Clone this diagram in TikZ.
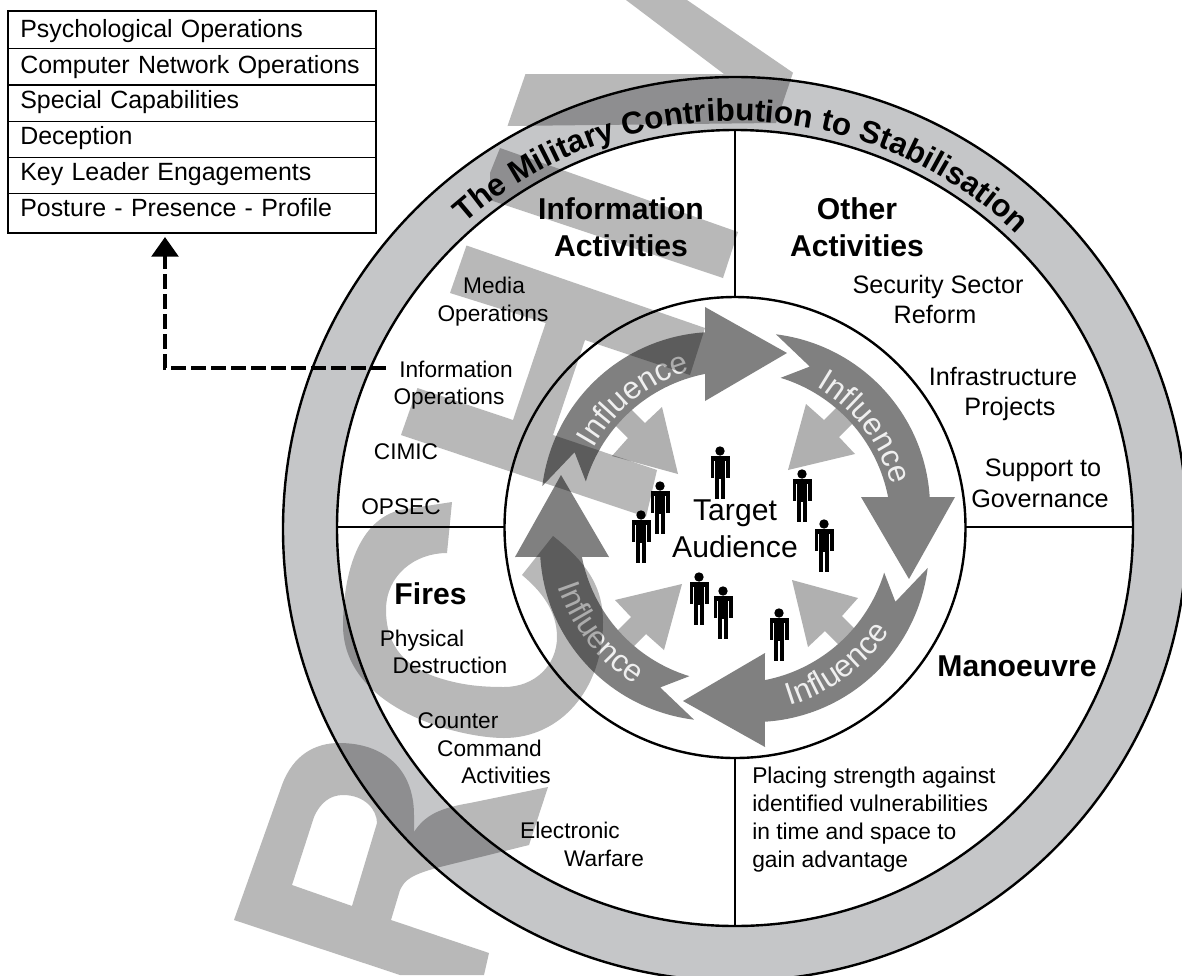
\documentclass[tikz,border=0pt]{standalone}
\usepackage{fontspec}
\setmainfont{Liberation Sans}
\usetikzlibrary{arrows.meta,decorations.text,calc}
\definecolor{ringgray}{HTML}{C5C6C8}
\definecolor{wmgray}{HTML}{B8B8B8}
\definecolor{flowgray}{HTML}{808080}
\definecolor{smallgray}{HTML}{B0B0B0}
\definecolor{flowtext}{HTML}{EFEFEF}
\tikzset{
  circ/.style={line width=1.8pt},
  divider/.style={line width=1.5pt},
  lab/.style={font=\fontsize{17}{21.5}\selectfont,inner sep=0pt,anchor=base},
  labr/.style={font=\fontsize{18.9}{21.5}\selectfont,inner sep=0pt,anchor=base},
  head/.style={font=\bfseries\fontsize{22.6}{27.75}\selectfont,inner sep=0pt,align=center},
  row/.style={draw,line width=0.9pt,outer sep=0pt,anchor=north west,minimum width=275.8pt,inner xsep=2pt,inner ysep=0pt,
     text width=271.8pt,align=left,font=\fontsize{18.7}{21}\selectfont,text height=13.5pt,
     execute at begin node={\hspace*{7.2pt}}},
  watermark/.style={fill=wmgray,even odd rule,blend mode=multiply},
  person/.pic={
    \fill (0,0) circle (4.7);
    \fill (-9.5,5) rectangle (9.5,9.5);
    \fill (-9.5,5) rectangle (-5.8,27);
    \fill (5.8,5) rectangle (9.5,27);
    \fill (-5,5) rectangle (5,28);
    \fill (-5,28) rectangle (-0.7,48);
    \fill (0.7,28) rectangle (5,48);
  }
}
\newcommand{\flowtextarc}[3]{% radius, start, end
  \path[decorate,decoration={text along path,text align={fit to path},
    text={|\fontsize{23.5}{24}\selectfont\color{flowtext}|Influence}}]
    (#2:#1) arc[start angle=#2,end angle=#3,radius=#1];}
\begin{document}
\begin{tikzpicture}[x=0.75pt,y=-0.75pt]
\useasboundingbox (0,0) rectangle (1182,975);
\fill[white] (0,0) rectangle (1182,975);
\begin{scope}
\clip (0,0) rectangle (1182,975);

% rings
\fill[ringgray] (735,529) circle (452);
\fill[white] (735,528) circle (398);
\draw[circ] (735,529) circle (452);
\draw[circ] (735,528) circle (398);
\draw[circ] (735,527.5) circle (230.5);
\coordinate (ctop) at (735,130);
\coordinate (cinnertop) at (735,297);
\coordinate (cbot) at (735,926);
\coordinate (cinnerbot) at (735,758);
\coordinate (cleft) at (337,527);
\coordinate (cinnerleft) at (505,527);
\coordinate (cright) at (1133,527);
\coordinate (cinnerright) at (965,527);
\draw[divider] (ctop) -- (cinnertop);
\draw[divider] (cbot) -- (cinnerbot);
\draw[divider] (cleft) -- (cinnerleft);
\draw[divider] (cright) -- (cinnerright);

% ring title
\begin{scope}[shift={(735,529)},y=0.75pt]
\path[decorate,decoration={text along path,text align={fit to path},
  text={|\bfseries\fontsize{23.6}{26}\selectfont|The Military Contribution to Stabilisation}}]
  (131.5:408) arc[start angle=131.5,end angle=47.5,radius=408];
\end{scope}

% inward light arrows, then circular flow arrows
\foreach \k in {0,1,2,3}{
\begin{scope}[shift={(735,527)},rotate=-90*\k,y=0.75pt]
\fill[smallgray] (-57,53) -- (-73,120) -- (-90,104) -- (-112,126) -- (-129,111) -- (-107,89) -- (-123,71) -- cycle;
\fill[flowgray] (168:197) .. controls (145.5:221) and (121:221) .. (98.7:197)
  -- (-30,220) -- (52,174) -- (-30,126) -- (101:156)
  arc[start angle=101,end angle=163,radius=156] -- (155:177) -- cycle;
\end{scope}}

% flow labels
\begin{scope}[shift={(735,527)},y=0.75pt]
\flowtextarc{162}{151}{107.5}
\flowtextarc{162}{60}{18}
\flowtextarc{187}{-73}{-36}
\flowtextarc{187}{198.5}{235}
\end{scope}

% people
\foreach \px/\py in {720/451,802/474,824/524,660/486,641/515,699/577,723/591,779/613}{
  \pic at (\px,\py) {person};
}

% labels
\node[head] (hinfo) at (621,227) {Information\\Activities};
\node[head] (hother) at (857,227) {Other\\Activities};
\node[head] (hman) at (1017,666) {Manoeuvre};
\node[head] (hfires) at (430.5,594) {Fires};
\node[font=\fontsize{22.6}{27.75}\selectfont,inner sep=0pt,align=center] (target) at (735,529) {Target\\Audience};
\node[labr] (ss) at (938,293.3) {Security Sector};
\node[labr] (ref) at (935,323.3) {Reform};
\node[labr] (infra) at (1003,385) {Infrastructure};
\node[labr] (proj) at (1010,415) {Projects};
\node[labr] (supp) at (1043,476) {Support to};
\node[labr] (gov) at (1040,507) {Governance};
\node[lab,align=left,font=\fontsize{17.1}{21}\selectfont,anchor=north west] (place) at (752,766.7) {Placing strength against\\identified vulnerabilities\\in time and space to\\gain advantage};
\node[lab] (media) at (494,293) {Media};
\node[lab] (mediaop) at (493,321.7) {Operations};
\node[lab] (info) at (456,377) {Information};
\node[lab] (infoop) at (449,404) {Operations};
\node[lab] (cimic) at (406,459) {CIMIC};
\node[lab] (opsec) at (401,514) {OPSEC};
\node[lab] (phys) at (422,646) {Physical};
\node[lab] (dest) at (450,673) {Destruction};
\node[lab] (count) at (458,728) {Counter};
\node[lab] (comm) at (489.5,756) {Command};
\node[lab] (act) at (506,783) {Activities};
\node[lab] (elec) at (570,838) {Electronic};
\node[lab] (warf) at (604,866) {Warfare};

% watermark letters, multiplied over everything below
\fill[watermark] (234,920) -- (282,785) .. controls (293,755) and (315,743) .. (339,743)
  .. controls (385,743) and (414,770) .. (414,815) -- (414,832)
  .. controls (425,815) and (440,808) .. (470,803) -- (548,787) -- (529,845) -- (440,867)
  .. controls (410,875) and (405,880) .. (400,890) -- (391,920) -- (489,953) -- (484,975) -- (400,975) -- cycle
  (292,885) -- (314,817) .. controls (320,803) and (330,795) .. (343,795)
  .. controls (365,795) and (377,810) .. (377,823) -- (352,906) -- cycle;
\fill[watermark] (452,502) -- (447,553) .. controls (415,553) and (386,575) .. (386,610)
  .. controls (386,650) and (410,668) .. (436,677) .. controls (460,685) and (480,687) .. (504,687)
  .. controls (535,687) and (557,665) .. (557,637) .. controls (557,610) and (540,590) .. (522,575)
  -- (553,536) .. controls (590,565) and (603,590) .. (603,622)
  .. controls (603,690) and (560,738) .. (504,738) .. controls (460,738) and (345,710) .. (343,627)
  .. controls (343,570) and (360,520) .. (400,510) -- cycle;
\fill[watermark] (466.5,245.5) -- (450,293) -- (545.7,323) -- (513,420) -- (417.5,388) -- (401,435)
  -- (646,517) -- (657,470) -- (553,435) -- (585,340) -- (690,375) -- (705,328) -- cycle;
\fill[watermark] (500,148) -- (738,232) -- (723,278) -- (490,200) -- (490,173) -- cycle;
\fill[watermark] (626,0) -- (724,74) -- (525.5,74) -- (507.5,126) -- (776,123) -- (793,72.7) -- (687,0) -- cycle;
\end{scope}

% table of capabilities
\node[row,minimum height=28.5pt,text depth=1.5pt] (r1) at (8,10.7) {Psychological Operations};
\node[row,minimum height=27.25pt,text depth=3.8pt] (r2) at (r1.south west) {Computer Network Operations};
\node[row,minimum height=27.25pt,text depth=5.85pt] (r3) at (r2.south west) {Special Capabilities};
\node[row,minimum height=27pt,text depth=6pt] (r4) at (r3.south west) {Deception};
\node[row,minimum height=27.3pt,text depth=6.3pt] (r5) at (r4.south west) {Key Leader Engagements};
\node[row,minimum height=29.5pt,text depth=9.6pt] (r6) at (r5.south west) {Posture - Presence - Profile};
\draw[line width=1.8pt] (r1.north west) rectangle (r6.south east);

% dashed link
\coordinate (boxdrop) at (165,237);
\draw[line width=3pt,dash pattern=on 11pt off 4pt,-{Triangle[length=14.8pt,width=20pt]}] ([shift={(-9.75pt,1pt)}]info.west) -| (boxdrop);
\end{tikzpicture}
\end{document}
